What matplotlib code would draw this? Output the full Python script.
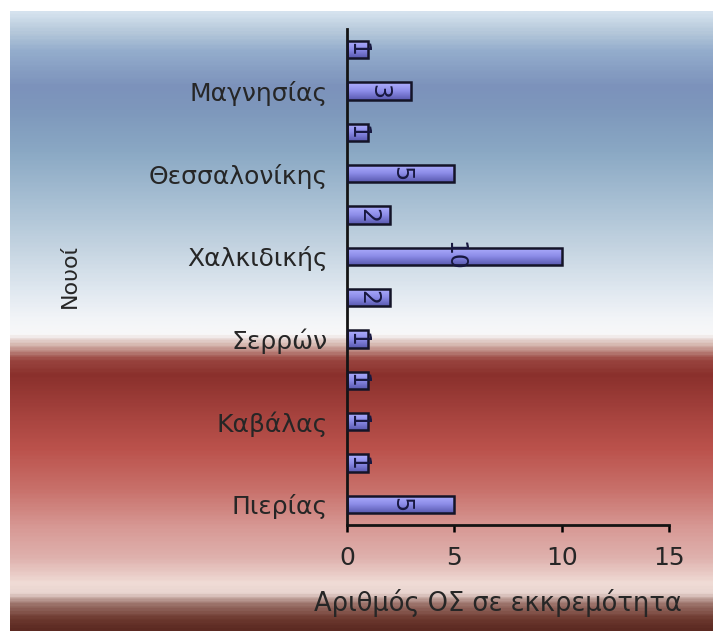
import numpy as np
import matplotlib
matplotlib.use("Agg")
import matplotlib.pyplot as plt
from matplotlib.colors import LinearSegmentedColormap

# Νομοί και αριθμός ΟΣ σε εκκρεμότητα (από κάτω προς τα πάνω)
nomoi = ["Πιερίας", "", "Καβάλας", "", "Σερρών", "",
         "Χαλκιδικής", "", "Θεσσαλονίκης", "", "Μαγνησίας", ""]
values = [5, 1, 1, 1, 1, 2, 10, 2, 5, 1, 3, 1]

W, H = 713, 631
fig = plt.figure(figsize=(W / 100, H / 100), dpi=100)
plt.rcParams['font.family'] = ['DejaVu Sans']

# background panel with a vertical colour fade
bg_stops = [
    (11, "#d5e2ee"), (30, "#b5c8da"), (50, "#93accc"), (85, "#7c92bb"),
    (110, "#7e98bc"), (150, "#8aa8c4"), (200, "#a7bfd3"), (250, "#c6d5e2"),
    (290, "#e0e8f0"), (320, "#f3f5f8"), (335, "#f8f8f8"), (345, "#d4b4ac"),
    (360, "#9a4640"), (375, "#8a302c"), (420, "#a94540"), (450, "#bb524c"),
    (490, "#c8706a"), (530, "#d89a96"), (560, "#dfb2ae"), (585, "#f0dcd6"),
    (595, "#e8d4cf"), (605, "#a07870"), (620, "#6e3a30"), (631, "#5c2a22"),
]
top, bot = 11, 631
cmap_bg = LinearSegmentedColormap.from_list(
    "bg", [((y - top) / (bot - top), c) for y, c in bg_stops])
bg = fig.add_axes([10 / W, 0, 1 - 10 / W, 1 - top / H], zorder=-1)
bg.imshow(np.linspace(0, 1, 400).reshape(-1, 1), cmap=cmap_bg,
          aspect="auto", extent=[0, 1, 1, 0])
bg.set_xlim(0, 1)
bg.set_ylim(1, 0)
bg.axis("off")

# main chart
ax = fig.add_axes([347 / W, 1 - 525 / H, (669 - 347) / W, (525 - 29) / H])
ax.patch.set_alpha(0)
ypos = np.arange(len(values))
bars = ax.barh(ypos, values, height=0.42, facecolor="none",
               edgecolor="#141428", linewidth=1.8, zorder=3)

cmap_bar = LinearSegmentedColormap.from_list(
    "bar", ["#5a5ab0", "#8c8ce8", "#b0b0ff"])
grad = np.linspace(0, 1, 50).reshape(-1, 1)
for b in bars:
    x0, y0 = b.get_x(), b.get_y()
    im = ax.imshow(grad, cmap=cmap_bar, aspect="auto", origin="lower",
                   extent=[x0, x0 + b.get_width(), y0, y0 + b.get_height()],
                   zorder=2)
    im.set_clip_path(b)

for y, v in zip(ypos, values):
    ax.text(v / 2, y, str(v), rotation=-90, ha="center", va="center",
            fontsize=17, color="#181840", zorder=4)

ax.set_xlim(0, 15)
ax.set_ylim(-0.5, len(values) - 0.5)
ax.set_xticks([0, 5, 10, 15])
ax.set_yticks(ypos)
ax.set_yticklabels(nomoi)
ax.tick_params(axis="y", length=0, pad=14, labelsize=18, labelcolor="#262626")
ax.tick_params(axis="x", length=5, width=1.8, direction="out", pad=10,
               labelsize=18, labelcolor="#262626")
for s in ["top", "right"]:
    ax.spines[s].set_visible(False)
for s in ["left", "bottom"]:
    ax.spines[s].set_linewidth(2)
    ax.spines[s].set_color("#141414")

fig.text(498 / W, 1 - 603 / H, "Αριθμός ΟΣ σε εκκρεμότητα", ha="center",
         va="center", fontsize=18.5, color="#262626")
fig.text(70 / W, 1 - 276 / H, "Νουοί", rotation=90, ha="center",
         va="center", fontsize=16, color="#262626")

fig.savefig("out.png", dpi=100)
